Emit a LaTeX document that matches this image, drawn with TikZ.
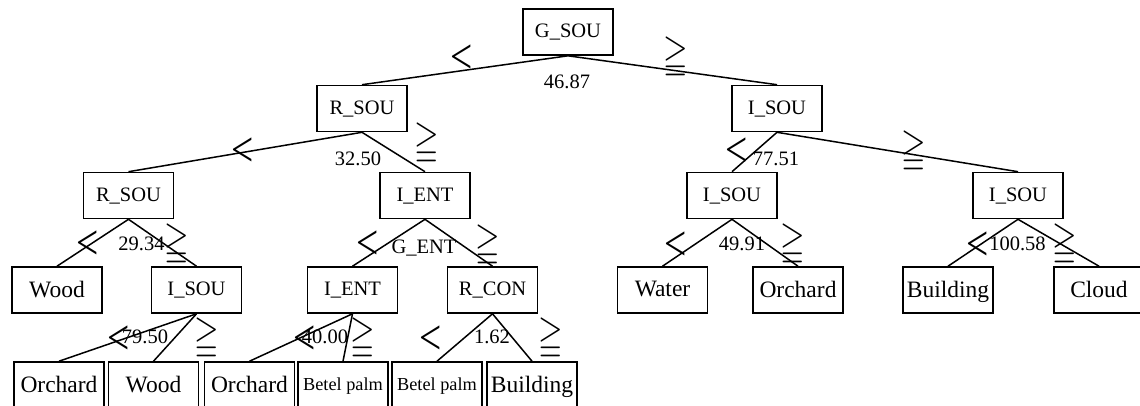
\documentclass[tikz,border=0pt]{standalone}
\usepackage{amssymb}
\usepackage{fontspec}
\setmainfont{Liberation Serif}
\usepackage{tikz}
\usetikzlibrary{positioning}

\tikzset{
  box/.style={draw,line width=1.6pt,minimum width=90,minimum height=46,inner sep=0pt,
    text depth=2pt,font=\fontsize{20.5}{22}\selectfont},
  leaf/.style={box,font=\fontsize{23.5}{25}\selectfont},
  smallleaf/.style={box,font=\fontsize{18.3}{20}\selectfont},
  thr/.style={inner sep=0pt,anchor=base,font=\fontsize{20.5}{22}\selectfont},
  ltsym/.style={inner sep=0pt,font=\fontsize{50}{50}\selectfont,xscale=.79},
  gesym/.style={inner sep=0pt,font=\fontsize{42}{42}\selectfont,xscale=.75},
  branch/.style={line width=1.5pt}
}

\begin{document}
\begin{tikzpicture}[x=1pt,y=-1pt]
  \useasboundingbox (0,0) rectangle (1140,405);
  \clip (0,0) rectangle (1140,405);

  % inner nodes
  \node[box] (gsou)  at (568,32)    {G\_SOU};
  \node[box] (rsou)  at (362,108.5) {R\_SOU};
  \node[box] (isou)  at (777,108.5) {I\_SOU};
  \node[box] (rsouL) at (128.5,195.5) {R\_SOU};
  \node[box] (ientL) at (425,195.5) {I\_ENT};
  \node[box] (isouL) at (732,195.5) {I\_SOU};
  \node[box] (isouR) at (1018,195.5) {I\_SOU};
  \node[box] (isouB) at (196.5,290) {I\_SOU};
  \node[box] (ientB) at (352.5,290) {I\_ENT};
  \node[box] (rcon)  at (492.5,290) {R\_CON};

  % leaves
  \node[leaf] (wood1)     at (57,290)    {Wood};
  \node[leaf] (water)     at (662.5,290) {Water};
  \node[leaf] (orchard1)  at (798,290)   {Orchard};
  \node[leaf] (building1) at (948,290)   {Building};
  \node[leaf] (cloud)     at (1099,290)  {Cloud};
  \node[leaf] (orchard2)  at (59,385)    {Orchard};
  \node[leaf] (wood2)     at (153.5,385) {Wood};
  \node[leaf] (orchard3)  at (249.5,385) {Orchard};
  \node[smallleaf] (betel1) at (343,385) {Betel palm};
  \node[smallleaf] (betel2) at (437,385) {Betel palm};
  \node[leaf] (building2) at (532,385)   {Building};

  % branches
  \foreach \p/\c in {gsou/rsou,gsou/isou,rsou/rsouL,rsou/ientL,isou/isouL,isou/isouR,
      rsouL/wood1,rsouL/isouB,ientL/ientB,ientL/rcon,isouL/water,isouL/orchard1,
      isouR/building1,isouR/cloud,isouB/orchard2,isouB/wood2,ientB/orchard3,
      ientB/betel1,rcon/betel2,rcon/building2}
    \draw[branch] (\p.south) -- (\c.north);

  % thresholds
  \node[thr] (t1)  at (567,88)    {46.87};
  \node[thr] (t2)  at (358,165)   {32.50};
  \node[thr] (t3)  at (776,165)   {77.51};
  \node[thr] (t4)  at (141.5,250.5) {29.34};
  \node[thr] (t5)  at (424,253)   {G\_ENT};
  \node[thr] (t6)  at (742,250.5) {49.91};
  \node[thr] (t7)  at (1017.5,250.5) {100.58};
  \node[thr] (t8)  at (145,343)   {79.50};
  \node[thr] (t9)  at (325,343.5) {40.00};
  \node[thr] (t10) at (492,343)   {1.62};

  % split signs
  \foreach \x/\y [count=\i] in {462/59,243/152,737/152,88/245,368/245,676/246,978/246,
      119/340,305/340,431/340}
    \node[ltsym] (lt\i) at (\x,\y) {<};
  \foreach \x/\y [count=\i] in {676/58,427/144,914/152,177/245,488/246,793/245,1065/245,
      207/339,363/339,551/339}
    \node[gesym] (ge\i) at (\x,\y) {$\geqq$};
\end{tikzpicture}
\end{document}
